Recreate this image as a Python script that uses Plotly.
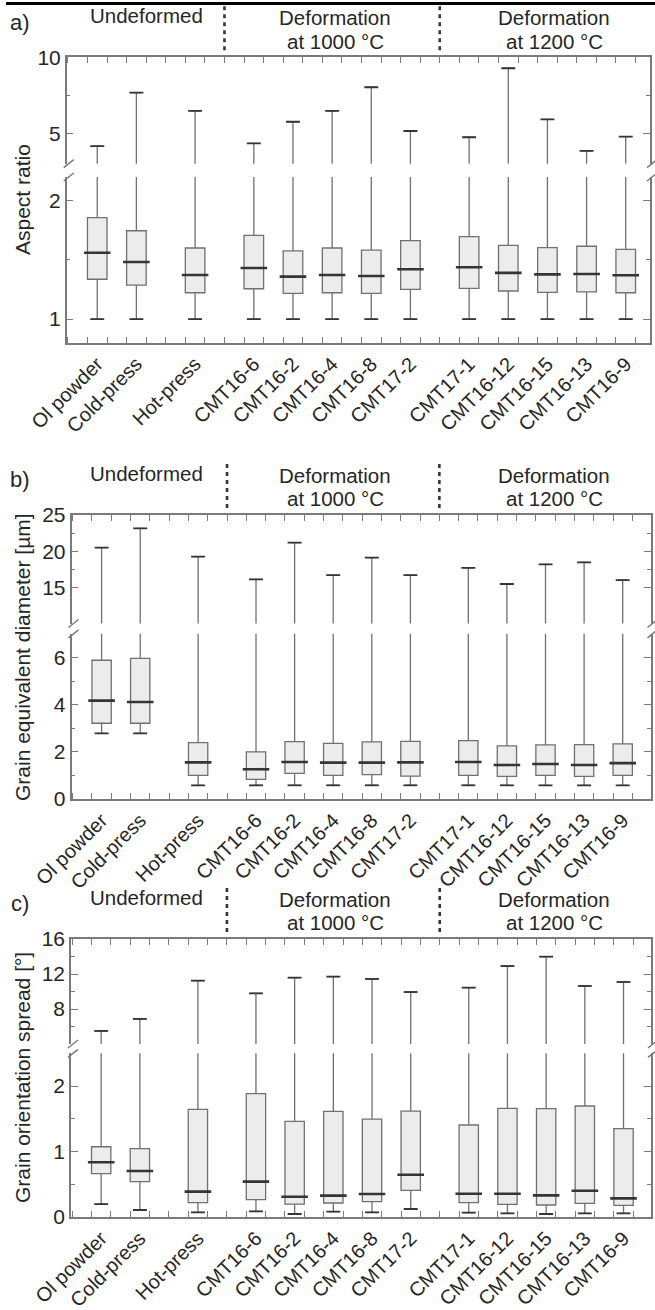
import plotly.graph_objects as go

W, H = 655, 1310


def px(x):
    return x / W


def py(y):
    return 1 - y / H


categories = ["Ol powder", "Cold-press", "Hot-press", "CMT16-6", "CMT16-2", "CMT16-4",
              "CMT16-8", "CMT17-2", "CMT17-1", "CMT16-12", "CMT16-15", "CMT16-13", "CMT16-9"]
positions = [1, 2, 3.5, 5, 6, 7, 8, 9, 10.5, 11.5, 12.5, 13.5, 14.5]

# a) Aspect ratio
ar_low = [1.0] * 13
ar_q1 = [1.336, 1.287, 1.222, 1.256, 1.217, 1.222, 1.217, 1.25, 1.259, 1.237, 1.226, 1.23, 1.222]
ar_med = [1.56, 1.482, 1.372, 1.431, 1.358, 1.372, 1.363, 1.42, 1.437, 1.39, 1.377, 1.38, 1.37]
ar_q3 = [1.856, 1.746, 1.60, 1.707, 1.575, 1.60, 1.583, 1.662, 1.696, 1.623, 1.603, 1.615, 1.589]
ar_high = [4.16, 7.67, 6.47, 4.34, 5.76, 6.47, 8.03, 5.15, 4.74, 9.28, 5.92, 3.84, 4.78]

# b) Grain equivalent diameter [µm]
ged_low = [2.78, 2.78, 0.58, 0.58, 0.58, 0.58, 0.58, 0.58, 0.58, 0.58, 0.58, 0.58, 0.58]
ged_q1 = [3.21, 3.21, 1.0, 0.83, 1.09, 1.0, 1.03, 0.97, 1.0, 0.96, 1.0, 0.96, 1.0]
ged_med = [4.17, 4.11, 1.55, 1.26, 1.57, 1.54, 1.54, 1.55, 1.57, 1.44, 1.48, 1.44, 1.52]
ged_q3 = [5.88, 5.96, 2.39, 2.0, 2.43, 2.36, 2.42, 2.44, 2.47, 2.25, 2.29, 2.3, 2.34]
ged_high = [20.48, 23.16, 19.24, 16.1, 21.17, 16.7, 19.1, 16.7, 17.7, 15.46, 18.18, 18.45, 16.0]

# c) Grain orientation spread [°]
gos_low = [0.198, 0.107, 0.071, 0.086, 0.046, 0.081, 0.071, 0.122, 0.066, 0.056, 0.046, 0.056, 0.056]
gos_q1 = [0.661, 0.54, 0.219, 0.265, 0.198, 0.214, 0.234, 0.407, 0.219, 0.193, 0.183, 0.209, 0.178]
gos_med = [0.835, 0.702, 0.387, 0.54, 0.31, 0.326, 0.351, 0.646, 0.356, 0.356, 0.331, 0.402, 0.285]
gos_q3 = [1.073, 1.043, 1.644, 1.883, 1.46, 1.613, 1.496, 1.618, 1.405, 1.659, 1.654, 1.695, 1.349]
gos_high = [5.49, 6.86, 11.24, 9.79, 11.58, 11.7, 11.43, 9.94, 10.44, 12.91, 13.98, 10.63, 11.09]

group_labels = [["Undeformed"], ["Deformation", "at 1000 °C"], ["Deformation", "at 1200 °C"]]
group_bounds = [4.25, 9.75]

panels = [
    dict(letter="a)", title="Aspect ratio",
         low=ar_low, q1=ar_q1, med=ar_med, q3=ar_q3, high=ar_high,
         xr=[0.22, 15.12], xpx=(66.7, 650.0),
         top=57.3, ubot=163.7, ltop=177.0, bot=342.7,
         urange=[3, 10], lrange=[0.8, 2.2],
         umaj=[5, 10], umin=[7.5], lmaj=[1, 2], lmin=[1.5]),
    dict(letter="b)", title="Grain equivalent diameter [µm]",
         low=ged_low, q1=ged_q1, med=ged_med, q3=ged_q3, high=ged_high,
         xr=[0.22, 15.22], xpx=(71.5, 650.5),
         top=515.0, ubot=623.5, ltop=633.8, bot=799.0,
         urange=[10, 25], lrange=[0, 7],
         umaj=[15, 20, 25], umin=[17.5, 22.5], lmaj=[0, 2, 4, 6], lmin=[1, 3, 5]),
    dict(letter="c)", title="Grain orientation spread [°]",
         low=gos_low, q1=gos_q1, med=gos_med, q3=gos_q3, high=gos_high,
         xr=[0.22, 15.21], xpx=(71.0, 651.0),
         top=939.0, ubot=1044.0, ltop=1053.3, bot=1217.0,
         urange=[4, 16], lrange=[0, 2.5],
         umaj=[8, 12, 16], umin=[6, 10, 14], lmaj=[0, 1, 2], lmin=[0.5, 1.5]),
]

FONT = "Liberation Sans, Arial, sans-serif"
TXT = "#262626"
AX = "#7a7a7a"
BOXLINE = "#707070"
FILL = "#ececec"
DARK = "#353535"

fig = go.Figure()
layout = dict(template="none", width=W, height=H,
              margin=dict(l=0, r=0, t=0, b=0, autoexpand=False),
              paper_bgcolor="white", plot_bgcolor="rgba(0,0,0,0)",
              showlegend=False, font=dict(family=FONT, size=21, color=TXT))
shapes = []
annotations = []

for i, p in enumerate(panels):
    lo, up = 2 * i + 1, 2 * i + 2
    for k in (lo, up):
        xa = "x" if k == 1 else f"x{k}"
        ya = "y" if k == 1 else f"y{k}"
        fig.add_trace(go.Box(
            x=positions, q1=p["q1"], median=p["med"], q3=p["q3"],
            lowerfence=p["low"], upperfence=p["high"],
            width=0.5, whiskerwidth=0.5, boxpoints=False,
            fillcolor=FILL, line=dict(color=BOXLINE, width=1.3),
            xaxis=xa, yaxis=ya, hoverinfo="skip"))
        fig.add_trace(go.Scatter(
            x=positions + positions, y=p["low"] + p["high"], mode="markers",
            marker=dict(symbol="line-ew", size=10, line=dict(color=DARK, width=1.8)),
            xaxis=xa, yaxis=ya, hoverinfo="skip"))
        fig.add_trace(go.Scatter(
            x=positions, y=p["med"], mode="markers",
            marker=dict(symbol="line-ew", size=19, line=dict(color=DARK, width=2.6)),
            xaxis=xa, yaxis=ya, hoverinfo="skip"))

    xdom = [px(p["xpx"][0]), px(p["xpx"][1])]
    common_x = dict(domain=xdom, range=p["xr"], showgrid=False, zeroline=False,
                    automargin=False,
                    showline=True, linecolor=AX, linewidth=1.5,
                    tickmode="array", tickvals=positions, ticks="",
                    minor=dict(tickmode="linear", tick0=0.25, dtick=0.5, ticks="inside",
                               ticklen=6, tickwidth=1.3, tickcolor=AX, showgrid=False))
    lname = "xaxis" if lo == 1 else f"xaxis{lo}"
    layout[lname] = dict(common_x, anchor="y" if lo == 1 else f"y{lo}", side="bottom",
                         ticktext=categories, tickangle=-45,
                         tickfont=dict(family=FONT, size=20, color=TXT))
    layout[f"xaxis{up}"] = dict(common_x, anchor=f"y{up}", side="top",
                                showticklabels=False,
                                matches="x" if lo == 1 else f"x{lo}")

    common_y = dict(showgrid=False, zeroline=False, showline=True, linecolor=AX,
                    automargin=False,
                    linewidth=1.5, mirror="ticks", ticks="inside", ticklen=7,
                    tickwidth=1.3, tickcolor=AX,
                    tickfont=dict(family=FONT, size=21, color=TXT), tickmode="array")
    yl = "yaxis" if lo == 1 else f"yaxis{lo}"
    layout[yl] = dict(common_y, domain=[py(p["bot"]), py(p["ltop"])], range=p["lrange"],
                      anchor="x" if lo == 1 else f"x{lo}", tickvals=p["lmaj"],
                      minor=dict(tickmode="array", tickvals=p["lmin"], ticks="inside",
                                 ticklen=4, tickwidth=1.3, tickcolor=AX, showgrid=False))
    layout[f"yaxis{up}"] = dict(common_y, domain=[py(p["ubot"]), py(p["top"])],
                                range=p["urange"], anchor=f"x{up}", tickvals=p["umaj"],
                                minor=dict(tickmode="array", tickvals=p["umin"],
                                           ticks="inside", ticklen=4, tickwidth=1.3,
                                           tickcolor=AX, showgrid=False))

    T = p["top"]
    xref_low = "x" if lo == 1 else f"x{lo}"
    # group separators
    for b in group_bounds:
        shapes.append(dict(type="line", xref=xref_low, yref="paper", x0=b, x1=b,
                           y0=py(T - 7), y1=py(T - 52),
                           line=dict(color=DARK, width=2.6, dash="4px,4px")))
    # axis break marks
    for xe in p["xpx"]:
        for ye in (p["ubot"], p["ltop"]):
            shapes.append(dict(type="line", xref="paper", yref="paper",
                               x0=px(xe - 3), y0=py(ye + 4), x1=px(xe + 7), y1=py(ye - 4),
                               line=dict(color=AX, width=1.5)))
    # letter
    annotations.append(dict(text=p["letter"], xref="paper", yref="paper",
                            x=px(20), y=py(T - 35), xanchor="center", yanchor="middle",
                            showarrow=False, font=dict(size=22, color=TXT)))
    # y-axis title
    annotations.append(dict(text=p["title"], xref="paper", yref="paper",
                            x=px(22), y=py((T + p["bot"]) / 2), xanchor="center",
                            yanchor="middle", textangle=-90, showarrow=False,
                            font=dict(size=21, color=TXT)))
    # group headers
    hx = [146, 335, 554]
    for gx, lines in zip(hx, group_labels):
        if len(lines) == 1:
            annotations.append(dict(text=lines[0], xref="paper", yref="paper",
                                    x=px(gx), y=py(T - 41.5), xanchor="center",
                                    yanchor="middle", showarrow=False,
                                    font=dict(size=20.5, color=TXT)))
        else:
            for li, yy in zip(lines, (T - 39.75, T - 16.25)):
                annotations.append(dict(text=li, xref="paper", yref="paper",
                                        x=px(gx), y=py(yy), xanchor="center",
                                        yanchor="middle", showarrow=False,
                                        font=dict(size=20.5, color=TXT)))

# top page rule
shapes.append(dict(type="line", xref="paper", yref="paper", x0=px(6), x1=1,
                   y0=py(3.5), y1=py(3.5), line=dict(color="black", width=3)))

layout["shapes"] = shapes
layout["annotations"] = annotations
fig.update_layout(**layout)
fig.write_html("out.html")
